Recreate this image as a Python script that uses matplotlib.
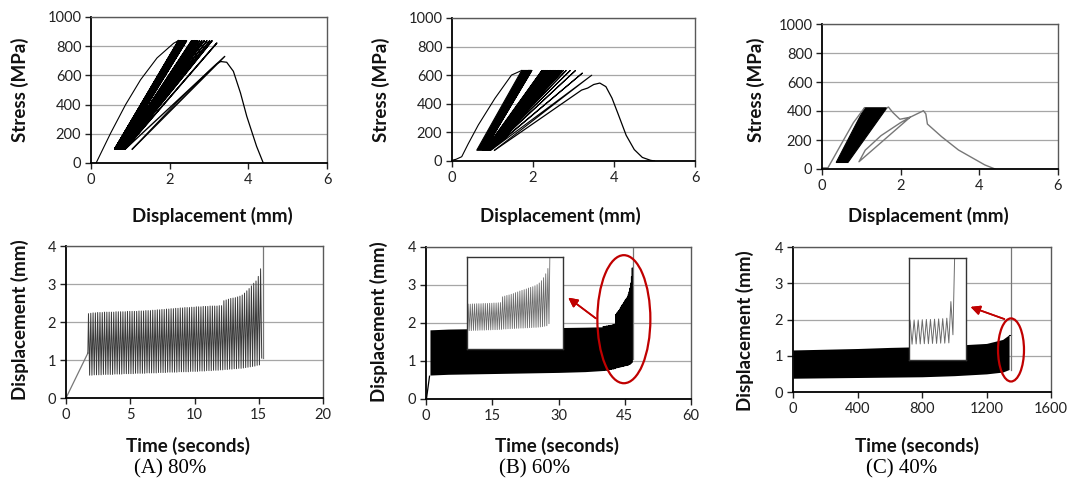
import numpy as np
import matplotlib.pyplot as plt
from matplotlib.patches import Ellipse

plt.rcParams['font.family'] = ['Lato', 'DejaVu Sans']

# ---------------- data ----------------
# (A) 80% : one entry per load cycle
a_peak = [2.22, 2.23, 2.24, 2.24, 2.25, 2.25, 2.25, 2.26, 2.26, 2.26,
          2.26, 2.26, 2.27, 2.27, 2.27, 2.27, 2.27, 2.28, 2.28, 2.28,
          2.28, 2.28, 2.29, 2.29, 2.29, 2.30, 2.30, 2.30, 2.31, 2.31,
          2.32, 2.32, 2.33, 2.33, 2.34, 2.34, 2.35, 2.35, 2.36, 2.36,
          2.37, 2.37, 2.38, 2.38, 2.38, 2.39, 2.39, 2.40, 2.40, 2.40,
          2.41, 2.41, 2.41, 2.42, 2.42, 2.42, 2.42, 2.43, 2.43,
          2.56, 2.58, 2.60, 2.62, 2.63, 2.64, 2.66, 2.68, 2.71,
          2.76, 2.82, 2.88, 2.95, 3.02, 3.08, 3.20, 3.40]
a_valley = [0.60, 0.60, 0.61, 0.61, 0.61, 0.61, 0.62, 0.62, 0.62, 0.62,
            0.62, 0.63, 0.63, 0.63, 0.63, 0.64, 0.64, 0.64, 0.64, 0.64,
            0.65, 0.65, 0.65, 0.65, 0.65, 0.66, 0.66, 0.66, 0.66, 0.66,
            0.67, 0.67, 0.67, 0.67, 0.68, 0.68, 0.68, 0.68, 0.68, 0.69,
            0.69, 0.69, 0.69, 0.69, 0.70, 0.70, 0.70, 0.70, 0.71, 0.71,
            0.71, 0.72, 0.72, 0.72, 0.73, 0.73, 0.73, 0.74, 0.74,
            0.75, 0.75, 0.76, 0.76, 0.77, 0.77, 0.78, 0.78, 0.79,
            0.80, 0.81, 0.82, 0.83, 0.84, 0.86, 0.87, 1.05]
a_smax = [838] * 74 + [822, 730]
a_smin = 95
a_t0, a_freq = 1.75, 5.6          # first cycle (s), loading frequency (Hz)
a_ramp_t, a_ramp_d = [0, 1.7], [0, 1.18]
a_init_d = [0.13, 0.5, 0.88, 1.26, 1.68, 2.1, 2.22]
a_init_s = [0, 205, 400, 570, 720, 820, 838]
a_fail_d = [1.05, 2.2, 3.0, 3.2, 3.3, 3.45, 3.62, 3.8, 3.96, 4.21, 4.38]
a_fail_s = [95, 420, 630, 680, 695, 690, 628, 480, 320, 114, 0]

# (B) 60%
b_init_t, b_init_d = [0.1, 0.8], [0.0, 0.6]
b_band_t = [0.9, 5, 10, 20, 30, 36, 40.1]
b_band_hi = [1.82, 1.84, 1.85, 1.87, 1.88, 1.89, 1.90]
b_band_lo = [0.63, 0.65, 0.66, 0.68, 0.70, 0.72, 0.75]
b_t0, b_freq = 40.1, 5.6
b_peak = [1.90, 1.90, 1.91, 1.91, 1.92, 1.92, 1.92, 1.93, 1.93, 1.93,
          1.94, 1.94, 1.95, 1.95, 1.96, 1.97,
          2.22, 2.25, 2.28, 2.30, 2.33, 2.36, 2.40, 2.43, 2.47, 2.50,
          2.53, 2.56, 2.60, 2.63, 2.66, 2.70, 2.75, 2.82,
          2.92, 3.05, 3.22, 3.45]
b_valley = [0.75, 0.75, 0.76, 0.76, 0.76, 0.77, 0.77, 0.77, 0.78, 0.78,
            0.78, 0.79, 0.79, 0.79, 0.80, 0.80,
            0.82, 0.82, 0.83, 0.83, 0.84, 0.84, 0.85, 0.85, 0.86, 0.86,
            0.87, 0.87, 0.88, 0.88, 0.89, 0.89, 0.90, 0.91,
            0.92, 0.94, 0.96, 1.05]
b_smax = [633] * 36 + [615, 600]
b_smin = 75
b_loops_d = [0.61, 0.80, 1.97, 1.72]     # outline of the dense early loops
b_loops_s = [75, 75, 633, 633]
b_init_sd = [0.0, 0.1, 0.24, 0.4, 0.65, 1.06, 1.47, 1.72]
b_init_s = [5, 12, 30, 120, 252, 438, 601, 633]
b_fail_d = [1.05, 2.2, 3.2, 3.35, 3.5, 3.65, 3.8, 3.95, 4.1, 4.3, 4.5, 4.7, 4.9, 5.0]
b_fail_s = [75, 300, 496, 510, 535, 545, 520, 440, 330, 180, 80, 25, 5, 0]

# (C) 40%
c_band_t = [0, 200, 400, 600, 800, 1000, 1200, 1300, 1340]
c_band_hi = [1.16, 1.18, 1.20, 1.23, 1.25, 1.29, 1.34, 1.45, 1.58]
c_band_lo = [0.38, 0.39, 0.40, 0.41, 0.42, 0.45, 0.50, 0.55, 0.62]
c_end_t = 1352
c_peak = [1.52, 1.53, 1.53, 1.54, 1.55, 1.55, 1.56, 1.57, 1.58, 1.60, 2.25]
c_valley = [0.58, 0.59, 0.59, 0.60, 0.60, 0.61, 0.61, 0.62, 0.62, 0.63, 0.95]
c_loops_d = [0.36, 0.66, 1.65, 1.08]
c_loops_s = [45, 45, 422, 422]
c_init_d = [0, 0.15, 0.3, 0.5, 0.8, 1.08]
c_init_s = [8, 8, 80, 177, 320, 422]
c_tail_d = [1.65, 1.69, 1.8, 1.98, 2.24, 0.94, 1.1, 1.5, 2.0, 2.24, 2.58, 2.64,
            2.68, 3.04, 3.47, 4.14, 4.4]
c_tail_s = [422, 427, 390, 343, 357, 50, 130, 230, 320, 357, 402, 380,
            310, 223, 131, 28, 0]

rupture_d = 4.6

# ---------------- helpers ----------------
W, H = 1069, 483
fig = plt.figure(figsize=(W / 100, H / 100), dpi=100)


def px_axes(l, t, r, b):
    return fig.add_axes([l / W, 1 - b / H, (r - l) / W, (b - t) / H])


def style(ax, xlim, xticks, ylim, yticks):
    ax.set_xlim(xlim)
    ax.set_ylim(ylim)
    ax.set_xticks(xticks)
    ax.set_yticks(yticks)
    ax.yaxis.grid(True, color='#a6a6a6', lw=0.9)
    ax.set_axisbelow(True)
    for s in ['top', 'right']:
        ax.spines[s].set_color('#595959')
        ax.spines[s].set_linewidth(1.0)
    for s in ['left', 'bottom']:
        ax.spines[s].set_color('black')
        ax.spines[s].set_linewidth(1.3)
    ax.tick_params(direction='out', length=4, width=1, labelsize=10.5,
                   pad=3, colors='#222222')


def sawtooth(t0, freq, peaks, valleys):
    t, d = [], []
    for i, (p, v) in enumerate(zip(peaks, valleys)):
        t += [t0 + i / freq, t0 + (i + 0.5) / freq]
        d += [p, v]
    return t, d


def loops(peaks, valleys, smax, smin):
    d, s = [], []
    for p, v, sm in zip(peaks, valleys, smax):
        d += [p, v]
        s += [sm, smin]
    return d, s


def label(x, y, txt, rot=0, size=13.5):
    fig.text(x / W, 1 - y / H, txt, rotation=rot, ha='center', va='center',
             fontsize=size, fontweight='bold', color='#111111')


red = '#c00000'

# ---------------- top row: stress vs displacement ----------------
ax = px_axes(91, 17, 327, 163)
style(ax, (0, 6), [0, 2, 4, 6], (0, 1000), range(0, 1001, 200))
ax.plot(a_init_d, a_init_s, color='black', lw=0.8)
d, s = loops(a_peak, a_valley, a_smax, a_smin)
ax.plot(d, s, color='black', lw=1.0)
ax.plot(a_fail_d, a_fail_s, color='black', lw=0.9)

ax = px_axes(452, 18, 695, 161)
style(ax, (0, 6), [0, 2, 4, 6], (0, 1000), range(0, 1001, 200))
ax.plot(b_init_sd, b_init_s, color='black', lw=0.8)
ax.fill(b_loops_d, b_loops_s, color='black', lw=0.8)
d, s = loops(b_peak, b_valley, b_smax, b_smin)
ax.plot(d, s, color='black', lw=0.8)
ax.plot(b_fail_d, b_fail_s, color='black', lw=0.9)

ax = px_axes(822, 24, 1058, 169)
style(ax, (0, 6), [0, 2, 4, 6], (0, 1000), range(0, 1001, 200))
ax.plot(c_init_d, c_init_s, color='#777777', lw=1.0)
ax.fill(c_loops_d, c_loops_s, color='black', lw=0.8)
ax.plot(c_tail_d, c_tail_s, color='#777777', lw=1.0)

# ---------------- bottom row: displacement vs time ----------------
ax = px_axes(66, 246, 323, 398)
style(ax, (0, 20), [0, 5, 10, 15, 20], (0, 4), [0, 1, 2, 3, 4])
ax.plot(a_ramp_t, a_ramp_d, color='#777777', lw=0.9)
t, d = sawtooth(a_t0, a_freq, a_peak, a_valley)
ax.plot([a_ramp_t[-1]] + t, [a_ramp_d[-1]] + d, color='#3a3a3a', lw=0.7)
ax.plot([t[-1] + 0.5 / a_freq] * 2, [d[-1], rupture_d], color='#777777', lw=0.9)

ax = px_axes(426, 247, 691, 399)
style(ax, (0, 60), [0, 15, 30, 45, 60], (0, 4), [0, 1, 2, 3, 4])
ax.plot(b_init_t, b_init_d, color='black', lw=0.9)
ax.fill_between(b_band_t, b_band_lo, b_band_hi, color='black', lw=0)
t, d = sawtooth(b_t0, b_freq, b_peak, b_valley)
ax.plot(t, d, color='black', lw=0.8)
ax.plot([t[-1] + 0.5 / b_freq] * 2, [d[-1], rupture_d], color='#777777', lw=0.9)
ax.add_patch(Ellipse((44.8, 2.1), 12, 3.37, fill=False, ec=red, lw=1.6,
                     clip_on=False, zorder=5))

ax = px_axes(793, 247, 1051, 392)
style(ax, (0, 1600), [0, 400, 800, 1200, 1600], (0, 4), [0, 1, 2, 3, 4])
ax.fill_between(c_band_t, c_band_lo, c_band_hi, color='black', lw=0)
ax.plot([c_band_t[-1], c_end_t], [c_band_hi[-1], c_band_hi[-1]], color='black', lw=0.8)
ax.plot([c_end_t] * 2, [c_band_lo[-1], rupture_d], color='#777777', lw=0.9)
ax.add_patch(Ellipse((1352, 1.16), 161, 1.74, fill=False, ec=red, lw=1.6,
                     clip_on=False, zorder=5))

# ---------------- insets ----------------
ins = px_axes(467, 257, 563, 349)
t, d = sawtooth(0, 1, b_peak, b_valley)
ins.plot(t + [len(b_peak)], d + [rupture_d], color='#6b6b6b', lw=0.6)
ins.set_xlim(-0.5, 44)
ins.set_ylim(-0.05, 3.95)
ins.set_xticks([])
ins.set_yticks([])
for s in ins.spines.values():
    s.set_color('#333333')
    s.set_linewidth(1.0)

ins = px_axes(909, 258, 966, 360)
t, d = sawtooth(0, 1, c_peak, c_valley)
ins.plot(t + [len(c_peak)], d + [rupture_d], color='#6b6b6b', lw=0.7)
ins.set_xlim(-0.25, 13.7)
ins.set_ylim(-0.04, 3.96)
ins.set_xticks([])
ins.set_yticks([])
for s in ins.spines.values():
    s.set_color('#333333')
    s.set_linewidth(1.0)

# arrows from the ellipses to the insets
arrow = dict(arrowstyle='-|>', color=red, lw=1.2, mutation_scale=14)
fig.add_artist(plt.annotate('', xy=(566, H - 296), xycoords='figure pixels',
                            xytext=(598, H - 320), textcoords='figure pixels',
                            arrowprops=arrow))
fig.add_artist(plt.annotate('', xy=(968, H - 306), xycoords='figure pixels',
                            xytext=(1007, H - 320), textcoords='figure pixels',
                            arrowprops=arrow))

# ---------------- labels ----------------
for x in (20, 381, 756):
    label(x, 90, 'Stress (MPa)', rot=90)
for x in (212, 560, 928):
    label(x, 216, 'Displacement (mm)')
for x, y in ((20, 320), (379, 322), (745, 331)):
    label(x, y, 'Displacement (mm)', rot=90)
for x in (188, 557, 917):
    label(x, 446, 'Time (seconds)')
for x, txt in ((170, '(A) 80%'), (535, '(B) 60%'), (902, '(C) 40%')):
    fig.text(x / W, 1 - 469 / H, txt, ha='center', va='center', fontsize=15,
             family='Liberation Serif')

fig.savefig('out.png', dpi=100)
